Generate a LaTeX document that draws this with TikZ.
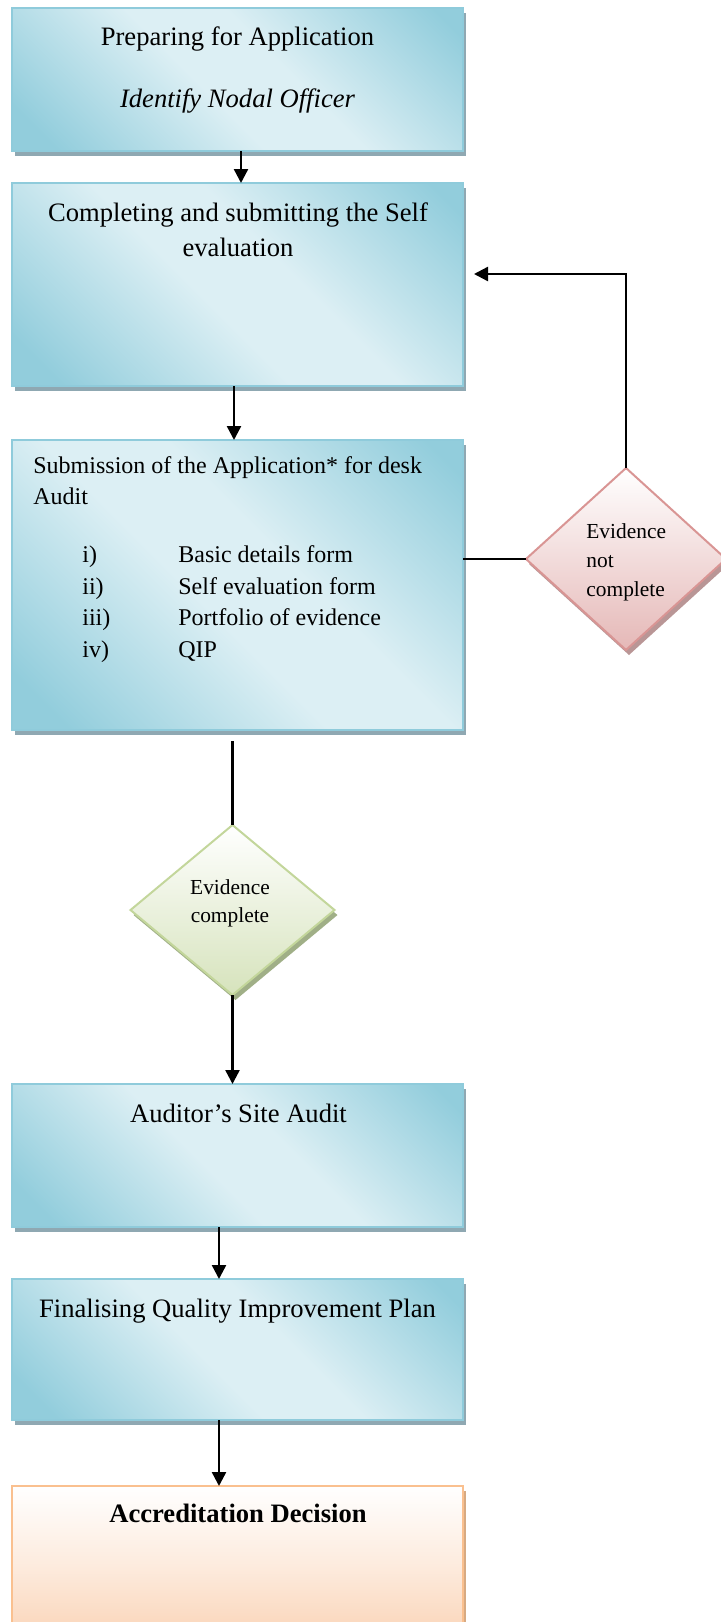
\documentclass[tikz,border=0pt]{standalone}
\usepackage{fontspec}
\setmainfont{Liberation Serif}
\usetikzlibrary{arrows.meta,shapes.geometric,shadows}
\definecolor{bdark}{RGB}{146,205,220}
\definecolor{blight}{RGB}{220,239,244}
\definecolor{bborder}{RGB}{143,203,219}
\definecolor{bshadowc}{RGB}{143,168,178}
\definecolor{rbottom}{RGB}{229,184,183}
\definecolor{rborder}{RGB}{217,149,148}
\definecolor{rshadowc}{RGB}{185,150,150}
\definecolor{gbottom}{RGB}{214,227,188}
\definecolor{gborder}{RGB}{195,214,155}
\definecolor{gshadowc}{RGB}{160,175,135}
\definecolor{obottom}{RGB}{250,210,180}
\definecolor{oborder}{RGB}{250,192,143}
\definecolor{oshadowc}{RGB}{215,170,130}
\pgfdeclarehorizontalshading{bluediag}{100bp}{color(0bp)=(bdark); color(20bp)=(bdark); color(45bp)=(blight); color(57bp)=(blight); color(82bp)=(bdark); color(100bp)=(bdark)}
\tikzset{
  bluebox/.style={draw=bborder, line width=1pt, shading=bluediag, shading angle=45,
    minimum width=225.5pt, inner sep=0pt, outer sep=0pt,
    drop shadow={shadow xshift=1.5pt, shadow yshift=-2.5pt, fill=bshadowc, opacity=1}},
  orangebox/.style={draw=oborder, line width=1pt, top color=white, bottom color=obottom,
    middle color=white!55!obottom,
    minimum width=225.5pt, inner sep=0pt, outer sep=0pt,
    drop shadow={shadow xshift=1.5pt, shadow yshift=-2.5pt, fill=oshadowc, opacity=1}},
  reddia/.style={diamond, draw=rborder, line width=1pt, top color=white, bottom color=rbottom,
    minimum width=100pt, minimum height=91pt, inner sep=0pt, outer sep=0pt,
    drop shadow={shadow xshift=1.5pt, shadow yshift=-2.5pt, fill=rshadowc, opacity=1}},
  greendia/.style={diamond, draw=gborder, line width=1pt, top color=white, bottom color=gbottom,
    minimum width=102pt, minimum height=85pt, inner sep=0pt, outer sep=0pt,
    drop shadow={shadow xshift=1.5pt, shadow yshift=-2.5pt, fill=gshadowc, opacity=1}},
  txt/.style={inner sep=0pt, anchor=mid, font=\fontsize{13.3}{16}\selectfont},
  mtxtw/.style={inner sep=0pt, anchor=mid west, font=\fontsize{12}{14}\selectfont},
  small/.style={inner sep=0pt, anchor=mid, font=\fontsize{10.7}{13}\selectfont},
  smallw/.style={small, anchor=mid west},
  conn/.style={line width=1.2pt, black},
  arr/.style={conn, -{Triangle[length=7pt, width=7pt]}}
}
\begin{document}
\begin{tikzpicture}[x=0.5pt, y=-0.5pt]
\useasboundingbox (0,0) rectangle (721,1622);
\clip (0,0) rectangle (721,1622);
% boxes
\node[bluebox, minimum height=71.5pt] (box1) at (237.5,79.5) {};
\node[bluebox, minimum height=101.5pt] (box2) at (237.5,284.5) {};
\node[bluebox, minimum height=145pt] (box3) at (237.5,585) {};
\node[bluebox, minimum height=71.5pt] (box4) at (237.5,1155.5) {};
\node[bluebox, minimum height=70.5pt] (box5) at (237.5,1349.5) {};
\node[orangebox, minimum height=80pt] (box6) at (237.5,1566) {};
% diamonds
\node[reddia] (red) at (626,559) {};
\node[greendia] (green) at (232.5,910) {};
% texts
\node[txt] (t1a) at (237.5,41) {Preparing for Application};
\node[txt] (t1b) at (237.5,103) {\itshape Identify Nodal Officer};
\node[txt] (t2a) at (238,216.5) {Completing and submitting the Self};
\node[txt] (t2b) at (238,252) {evaluation};
\node[mtxtw] (t3a) at (33,469) {Submission of the Application* for desk};
\node[mtxtw] (t3b) at (33,500) {Audit};
\node[mtxtw] (r1) at (82,558) {i)};
\node[mtxtw] (r2) at (82,590) {ii)};
\node[mtxtw] (r3) at (82,621) {iii)};
\node[mtxtw] (r4) at (82,653) {iv)};
\node[mtxtw] (i1) at (178,558) {Basic details form};
\node[mtxtw] (i2) at (178,590) {Self evaluation form};
\node[mtxtw] (i3) at (178,621) {Portfolio of evidence};
\node[mtxtw] (i4) at (178,653) {QIP};
\node[smallw] (rt1) at (586,534) {Evidence};
\node[smallw] (rt2) at (586,563) {not};
\node[smallw] (rt3) at (586,592) {complete};
\node[small] (gt1) at (230,890) {Evidence};
\node[small] (gt2) at (230,918) {complete};
\node[txt] (t4) at (238.5,1118) {Auditor’s Site Audit};
\node[txt] (t5) at (237.5,1312.5) {Finalising Quality Improvement Plan};
\node[txt] (t6) at (238,1518) {\bfseries Accreditation Decision};
% connectors
\coordinate (fb) at (474,274);
\coordinate (b3out) at (232.5,741);
\draw[arr] ([xshift=1.75pt]box1.south) -- ([xshift=1.75pt]box2.north);
\draw[arr] ([xshift=-1.75pt]box2.south) -- ([xshift=-1.75pt]box3.north);
\draw[conn] (red.west) -- (red.west -| box3.east);
\draw[arr] (red.north) |- (fb);
\draw[conn] (b3out) -- (green.north);
\draw[arr] (green.south) -- (green.south |- box4.north);
\draw[arr] ([xshift=-9.25pt]box4.south) -- ([xshift=-9.25pt]box5.north);
\draw[arr] ([xshift=-9.25pt]box5.south) -- ([xshift=-9.25pt]box6.north);
\end{tikzpicture}
\end{document}
